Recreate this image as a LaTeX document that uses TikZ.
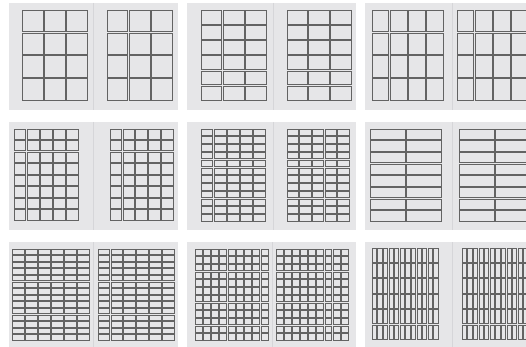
\documentclass[tikz,border=0pt]{standalone}
\usepackage{tikz}
\definecolor{bgc}{HTML}{E6E6E8}
\definecolor{spinec}{HTML}{D6D6D9}
\definecolor{linec}{HTML}{636363}
\tikzset{
  panel/.style={fill=bgc, draw=none},
  spine/.style={draw=spinec, line width=0.9pt},
  module/.style={draw=linec, line width=0.62pt, fill=bgc},
}
% \gridpage{x1}{y1}{x2}{y2}{cols}{rows}
\newcommand\gridpage[6]{%
  \pgfmathsetmacro\gg{1.3}%
  \pgfmathsetmacro\mw{((#3)-(#1)-((#5)-1)*\gg)/(#5)}%
  \pgfmathsetmacro\mh{((#4)-(#2)-((#6)-1)*\gg)/(#6)}%
  \pgfmathtruncatemacro\cmax{#5-1}%
  \pgfmathtruncatemacro\rmax{#6-1}%
  \foreach \ci in {0,...,\cmax}{%
    \foreach \ri in {0,...,\rmax}{%
      \pgfmathsetmacro\xa{(#1)+\ci*(\mw+\gg)}%
      \pgfmathsetmacro\ya{(#2)+\ri*(\mh+\gg)}%
      \draw[module] (\xa,-\ya) rectangle ++(\mw,-\mh);
    }%
  }%
}
\begin{document}
\begin{tikzpicture}[x=1pt,y=1pt]
\useasboundingbox (0,0) rectangle (526,-347);
\fill[white] (0,0) rectangle (526,-347);
\clip (0,0) rectangle (526,-347);
% ---------- row 1 ----------
\fill[panel] (9,-3) rectangle (178,-110);
\draw[spine] (93.5,-3) -- (93.5,-110);
\gridpage{22.7}{10}{87}{100}{3}{4}
\gridpage{107}{10}{172}{100}{3}{4}
\fill[panel] (187,-3) rectangle (356,-110);
\draw[spine] (273,-3) -- (273,-110);
\gridpage{201}{10}{266}{100}{3}{6}
\gridpage{287}{10}{351}{100}{3}{6}
\fill[panel] (365,-3) rectangle (534,-110);
\draw[spine] (452,-3) -- (452,-110);
\gridpage{372}{10}{443}{100}{4}{4}
\gridpage{457}{10}{528}{100}{4}{4}
% ---------- row 2 ----------
\fill[panel] (9,-122) rectangle (178,-230);
\draw[spine] (93.5,-122) -- (93.5,-230);
\gridpage{14}{129}{78}{220}{5}{8}
\gridpage{110}{129}{173}{220}{5}{8}
\fill[panel] (187,-122) rectangle (356,-230);
\draw[spine] (273,-122) -- (273,-230);
\gridpage{201}{129}{265}{221}{5}{12}
\gridpage{287}{129}{349}{221}{5}{12}
\fill[panel] (365,-122) rectangle (534,-230);
\draw[spine] (452,-122) -- (452,-230);
\gridpage{370}{129}{441}{221}{2}{8}
\gridpage{459}{129}{530}{221}{2}{8}
% ---------- row 3 ----------
\fill[panel] (9,-242) rectangle (178,-352);
\draw[spine] (93.5,-242) -- (93.5,-352);
\gridpage{12.5}{249}{89.5}{340}{6}{14}
\gridpage{98}{249}{174}{340}{6}{14}
\fill[panel] (187,-242) rectangle (356,-352);
\draw[spine] (272,-242) -- (272,-352);
\gridpage{195}{249}{268}{340}{9}{12}
\gridpage{276}{249}{348}{340}{9}{12}
\fill[panel] (365,-242) rectangle (534,-352);
\draw[spine] (452,-242) -- (452,-352);
\gridpage{372}{248}{438}{339}{12}{6}
\gridpage{462}{248}{528}{339}{12}{6}
\end{tikzpicture}
\end{document}
